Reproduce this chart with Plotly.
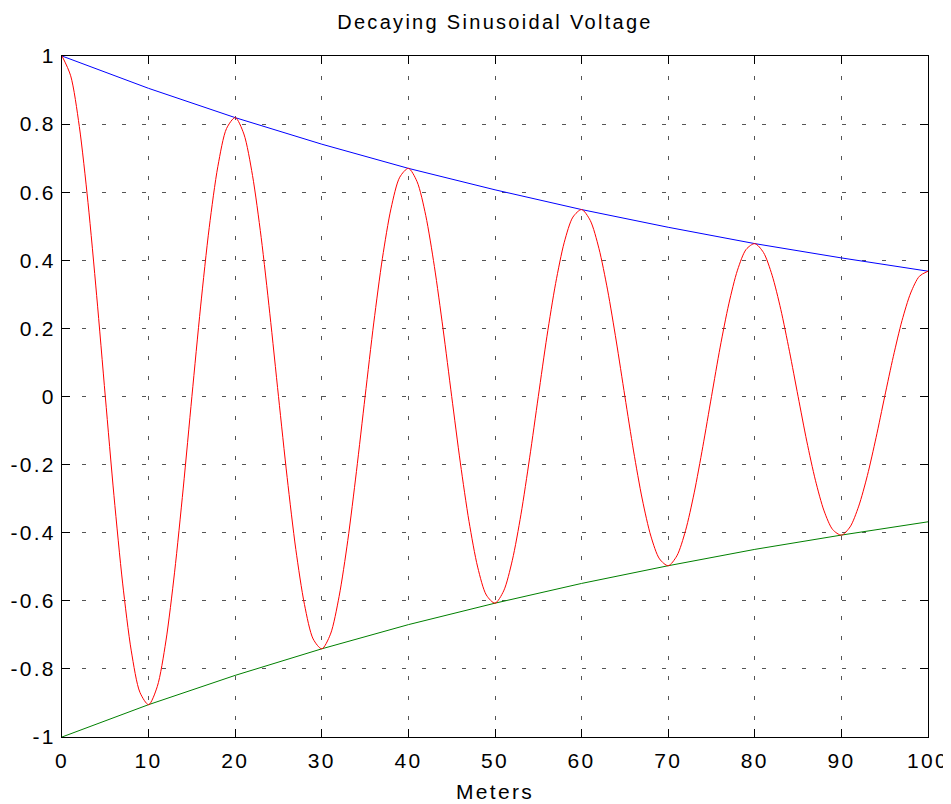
import plotly.graph_objects as go

# Distance samples (meters)
meters = list(range(0, 101))

# Decaying sinusoidal voltage at each meter
voltage = [
    1.000, 0.942, 0.793, 0.570, 0.297, 0.000, -0.291, -0.548, -0.747, -0.869,
    -0.905, -0.852, -0.718, -0.516, -0.269, 0.000, 0.263, 0.496, 0.676, 0.787,
    0.819, 0.771, 0.649, 0.467, 0.243, 0.000, -0.238, -0.449, -0.611, -0.712,
    -0.741, -0.698, -0.587, -0.423, -0.220, 0.000, 0.216, 0.406, 0.553, 0.644,
    0.670, 0.631, 0.532, 0.382, 0.199, 0.000, -0.195, -0.367, -0.501, -0.583,
    -0.607, -0.571, -0.481, -0.346, -0.180, 0.000, 0.177, 0.332, 0.453, 0.527,
    0.549, 0.517, 0.435, 0.313, 0.163, 0.000, -0.160, -0.301, -0.410, -0.477,
    -0.497, -0.468, -0.394, -0.283, -0.147, 0.000, 0.145, 0.272, 0.371, 0.432,
    0.449, 0.423, 0.356, 0.256, 0.133, 0.000, -0.131, -0.246, -0.336, -0.391,
    -0.407, -0.383, -0.322, -0.232, -0.121, 0.000, 0.118, 0.223, 0.304, 0.353,
    0.368,
]

# Envelope samples
env_meters = [0, 10, 20, 30, 40, 50, 60, 70, 80, 90, 100]
upper_env = [1.000, 0.905, 0.819, 0.741, 0.670, 0.607, 0.549, 0.497, 0.449, 0.407, 0.368]
lower_env = [-1.000, -0.905, -0.819, -0.741, -0.670, -0.607, -0.549, -0.497, -0.449, -0.407, -0.368]

x_ticks = [0, 10, 20, 30, 40, 50, 60, 70, 80, 90, 100]
y_ticks = [-1, -0.8, -0.6, -0.4, -0.2, 0, 0.2, 0.4, 0.6, 0.8, 1]
y_tick_labels = ["-1", "-0.8", "-0.6", "-0.4", "-0.2", "0", "0.2", "0.4", "0.6", "0.8", "1"]

FONT = "Liberation Sans, Arial, Helvetica, sans-serif"

fig = go.Figure()
fig.add_trace(go.Scatter(x=env_meters, y=upper_env, mode="lines",
                         line=dict(color="#0000ff", width=1), showlegend=False))
fig.add_trace(go.Scatter(x=env_meters, y=lower_env, mode="lines",
                         line=dict(color="#008000", width=1), showlegend=False))
fig.add_trace(go.Scatter(x=meters, y=voltage, mode="lines",
                         line=dict(color="#ff0000", width=1, shape="spline", smoothing=0.8),
                         showlegend=False))

axis_common = dict(
    showline=True, linecolor="black", linewidth=1, mirror="ticks",
    ticks="inside", ticklen=8, tickcolor="black", tickwidth=1,
    showgrid=True, gridcolor="#555555", gridwidth=1, griddash="4px,16px",
    zeroline=False, automargin=False,
    tickfont=dict(family=FONT, size=21, color="black"),
)

fig.update_layout(
    width=951, height=804,
    margin=dict(l=54, r=31, t=48, b=75),
    paper_bgcolor="white", plot_bgcolor="white",
    title=dict(text="Decaying Sinusoidal Voltage", x=(62 + 928) / 2 / 951 - 8 / 951, xanchor="center",
               y=1 - 14 / 804, yanchor="middle",
               font=dict(family=FONT, size=20, color="black")),
    xaxis=dict(range=[0, 100], tickvals=x_ticks, ticktext=[str(v) for v in x_ticks],
               ticklabelstandoff=5,
               title=dict(text="Meters", standoff=13,
                          font=dict(family=FONT, size=21, color="black")),
               **axis_common),
    yaxis=dict(range=[-1, 1], tickvals=y_ticks, ticktext=y_tick_labels,
               ticklabelstandoff=1, **axis_common),
)

post = ("document.querySelectorAll('.main-svg text').forEach(function(t){"
        "t.style.letterSpacing='2.3px';});")

fig.write_html("out.html", post_script=post)
